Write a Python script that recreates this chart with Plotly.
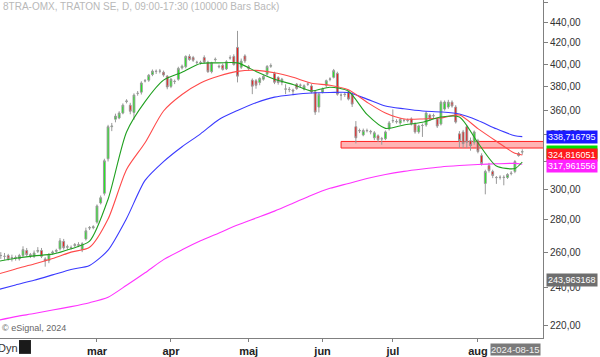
import numpy as np
import plotly.graph_objects as go

# ---------------- data ----------------
opens = [258.5,258.0,257.5,258.0,256.5,256.8,256.0,258.0,261.0,258.5,257.5,260.5,261.0,256.0,255.0,259.5,260.5,262.0,266.5,263.0,
         262.6,264.0,264.5,261.5,268.0,274.8,275.0,278.5,291.0,297.5,322.0,346.5,352.5,353.5,357.5,367.0,364.0,358.0,374.0,375.0,
         384.8,385.5,390.5,393.4,393.5,392.5,389.0,380.0,384.5,386.3,396.5,397.5,407.0,406.0,401.5,401.5,406.0,401.5,393.0,404.0,
         398.0,398.8,395.5,405.5,407.0,415.5,397.0,407.5,397.5,385.5,385.0,383.4,386.3,390.7,398.0,391.5,387.8,383.4,377.6,377.5,
         376.8,381.9,381.0,377.6,382.0,380.4,375.3,362.4,375.0,381.0,386.3,388.0,391.5,372.5,373.3,375.0,373.3,346.5,343.5,340.0,
         343.3,342.8,337.8,339.4,337.1,337.1,344.8,351.4,350.7,349.4,351.5,351.6,352.7,348.7,342.4,347.5,347.9,355.9,355.4,352.7,
         348.7,360.8,362.5,366.5,362.4,340.9,342.4,346.5,335.6,334.4,335.6,324.3,304.3,317.0,312.7,308.5,308.5,308.6,308.5,311.3,
         312.7,325.8,327.0]
highs = [260.5,260.0,259.5,259.0,258.5,258.0,259.0,263.5,262.5,259.5,261.0,263.0,262.5,257.0,259.5,261.0,262.0,268.5,268.0,264.5,
         264.0,265.5,266.0,266.0,275.0,276.0,276.5,290.0,296.0,322.0,348.0,349.5,357.0,359.0,365.5,369.0,366.0,374.0,376.0,384.5,
         386.5,391.0,395.0,395.0,395.5,394.0,390.0,387.5,386.0,397.5,399.5,408.0,409.0,407.5,403.0,403.0,408.0,403.0,402.0,406.0,
         399.5,400.5,403.5,408.0,409.0,431.5,405.0,409.0,399.0,387.0,386.5,388.0,390.0,399.0,400.5,393.0,389.0,387.5,381.9,379.5,
         378.0,383.0,382.5,381.8,383.5,382.0,376.5,374.5,379.0,386.0,388.0,395.5,393.0,374.0,375.0,376.5,375.0,351.0,345.0,345.0,
         345.0,344.0,343.0,340.5,338.5,343.5,351.0,360.5,352.5,353.5,353.0,353.0,354.0,350.0,348.0,349.0,359.0,357.0,357.0,354.0,
         368.0,368.0,368.5,368.0,364.0,343.0,344.0,348.0,338.0,343.5,337.0,326.0,314.0,319.0,314.0,309.5,310.0,310.0,311.5,313.0,
         321.0,327.0,329.0]
lows = [256.5,256.0,255.5,255.0,254.5,255.0,255.0,257.0,257.5,256.5,256.5,259.5,256.5,251.5,253.5,258.5,259.5,261.0,261.5,261.5,
        261.5,263.0,263.0,260.0,267.0,273.5,274.0,277.5,290.0,296.0,320.0,343.0,350.0,352.5,356.5,365.5,356.5,352.0,372.0,373.0,
        383.5,384.0,389.0,391.0,391.5,388.5,377.5,378.5,382.0,385.0,395.0,396.0,403.0,402.0,399.5,399.5,400.5,392.0,391.5,402.0,
        396.0,394.0,394.5,404.0,398.5,383.5,395.5,401.0,394.0,373.3,378.0,381.0,385.0,389.5,396.5,382.0,381.5,381.0,373.3,375.0,
        372.5,377.0,379.0,376.5,380.5,374.0,356.0,358.0,374.0,379.0,384.5,387.0,372.0,368.0,371.0,368.0,362.5,333.5,341.5,339.0,
        342.0,340.5,336.0,334.5,332.5,336.0,343.5,349.5,349.0,348.0,350.0,350.0,347.5,341.0,341.0,338.5,346.5,351.0,353.5,345.5,
        347.5,359.5,361.0,362.0,349.0,330.3,330.0,330.0,328.0,332.5,326.0,317.0,296.8,312.0,308.0,304.0,307.0,303.0,307.5,310.0,
        311.5,323.5,325.0]
closes = [258.0,258.0,257.5,256.0,256.8,256.5,258.0,261.5,258.5,258.0,259.5,261.0,257.5,254.8,258.5,260.0,261.0,266.8,262.6,263.2,
          262.8,264.5,264.2,265.0,273.0,275.0,275.5,289.0,294.5,320.5,346.5,347.0,355.0,357.5,364.0,367.5,359.0,372.5,374.0,383.0,
          385.0,389.8,393.5,393.3,393.5,390.0,379.5,386.3,384.3,396.0,398.0,407.0,404.2,403.5,401.5,401.3,402.0,393.0,401.0,404.3,
          397.5,395.1,402.0,405.8,399.5,389.0,402.6,402.8,396.0,380.2,381.0,387.0,388.8,397.8,398.5,383.6,383.4,386.3,377.8,377.3,
          376.0,378.2,381.0,380.6,382.0,375.3,358.3,373.3,377.6,385.0,386.5,394.0,373.3,372.5,373.0,369.1,364.9,337.8,343.3,343.5,
          343.5,342.5,341.7,336.3,337.0,342.4,349.5,351.3,350.5,352.3,351.5,351.4,348.7,342.4,347.1,347.5,357.5,352.7,355.3,347.0,
          366.5,366.6,366.5,363.3,350.2,335.6,333.3,334.4,331.8,342.4,327.3,318.5,312.7,313.5,309.9,308.4,308.6,308.5,310.6,311.5,
          319.9,324.4,327.2]

# moving averages sampled at these bar numbers
ma_bars = [0, 5, 10, 15, 20, 25, 30, 35, 40, 45, 50, 55, 60, 65, 70, 75, 80, 85, 90, 95, 100,
           105, 110, 115, 120, 125, 130, 135, 140, 142]
ma_green = [254.5, 256.4, 257.8, 258.8, 262.0, 266.6, 293.5, 342.4, 367.0, 385.5, 392.5, 400.5, 401.0, 401.0, 393.3,
            386.3, 381.6, 376.0, 379.3, 375.8, 356.4, 345.2, 347.9, 350.0, 354.3, 354.3, 334.0, 316.7, 314.9, 319.6]
ma_red = [247.1, 250.2, 253.0, 256.2, 260.0, 262.9, 280.5, 314.2, 334.0, 359.2, 373.0, 383.0, 389.2, 393.3, 394.2,
          392.0, 388.0, 382.8, 381.0, 377.0, 366.5, 357.5, 352.7, 352.7, 353.5, 355.9, 345.0, 335.2, 326.0, 324.8]
ma_blue = [238.5, 241.2, 243.8, 246.8, 249.9, 252.2, 261.2, 280.8, 306.4, 319.9, 331.0, 340.9, 352.3, 359.6, 366.1,
           370.8, 372.9, 374.3, 374.7, 374.7, 369.1, 363.3, 361.0, 359.2, 358.4, 356.7, 351.5, 344.8, 339.4, 338.7]
ma_magenta = [222.3, 224.3, 225.9, 227.7, 229.5, 231.6, 234.5, 241.0, 248.0, 255.6, 261.4, 266.8, 271.7, 276.7, 281.1,
              285.6, 290.8, 296.2, 300.9, 304.3, 307.8, 310.6, 312.8, 314.5, 316.0, 317.0, 317.8, 318.3, 318.6, 318.0]

month_bars = [27, 47, 68, 88, 107, 130]
month_labels = ["mar", "apr", "maj", "jun", "jul", "aug"]

price_ticks = [220, 240, 260, 280, 300, 320, 340, 360, 380, 400, 420, 440, 460]

zone_low, zone_high, zone_start = 330.0, 335.0, 93

last_labels = [  # value shown, position value, colour
    ("338,716795", 338.716795, "#1a1aff"),
    ("324,816051", 327.0, "#00dd00"),
    ("324,816051", 324.816051, "#ff1a1a"),
    ("317,961556", 317.0, "#ff22ff"),
    ("243,963168", 243.963168, "#6e6e6e"),
]

FONT = "Liberation Sans, Arial, sans-serif"
bars = list(range(len(closes)))

fig = go.Figure()
for vals, col in [(ma_magenta, "#ff33ff"), (ma_blue, "#3a3aff"), (ma_red, "#ff4a4a"), (ma_green, "#20a020")]:
    fig.add_trace(go.Scatter(x=ma_bars, y=vals, mode="lines",
                             line=dict(color=col, width=1.1, shape="spline", smoothing=0.7),
                             hoverinfo="skip"))

fig.add_trace(go.Candlestick(
    x=bars, open=opens, high=highs, low=lows, close=closes,
    increasing=dict(fillcolor="#00ff00", line=dict(color="#9a9a9a", width=1)),
    decreasing=dict(fillcolor="#ff0000", line=dict(color="#9a9a9a", width=1)),
    whiskerwidth=0,
))

fig.add_shape(type="rect", xref="x", yref="y", x0=zone_start, x1=150, y0=zone_low, y1=zone_high,
              fillcolor="#ffb4b4", line=dict(color="#ff2020", width=1), layer="below")

# right-hand value labels
for txt, v, col in last_labels:
    fig.add_annotation(xref="paper", yref="y", x=1, y=np.log10(v), xanchor="left", xshift=3,
                       text=txt, showarrow=False, bgcolor=col, borderpad=1,
                       font=dict(family=FONT, size=9, color="white"))

# header / footer texts
fig.add_annotation(xref="paper", yref="paper", x=0.0, y=1.0, xanchor="left", yanchor="top", xshift=1, yshift=1,
                   text="8TRA-OMX, TRATON SE, D, 09:00-17:30 (100000 Bars Back)", showarrow=False,
                   font=dict(family=FONT, size=10, color="#b8b8b8"))
fig.add_annotation(xref="paper", yref="paper", x=0.0, y=0.0, xanchor="left", yanchor="bottom", yshift=3,
                   text="© eSignal, 2024", showarrow=False, font=dict(family=FONT, size=9, color="#666666"))
fig.add_annotation(xref="paper", yref="paper", x=0.0, y=0.0, xanchor="left", yanchor="top", xshift=-4, yshift=-2,
                   text="Dyn", showarrow=False, font=dict(family=FONT, size=11, color="#333333"))
fig.add_shape(type="rect", xref="paper", yref="paper", x0=0.035, x1=0.057, y0=-0.047, y1=-0.006,
              fillcolor="#1a1a1a", line=dict(width=0))
fig.add_annotation(xref="paper", yref="paper", x=1.0, y=0.0, xanchor="right", yanchor="top", xshift=-2, yshift=-5,
                   text="2024-08-15", showarrow=False, bgcolor="#7a7a7a", borderpad=0,
                   font=dict(family=FONT, size=9.5, color="#f0f0f0"))

fig.update_layout(
    width=600, height=357,
    margin=dict(l=0, r=57, t=0, b=16),
    paper_bgcolor="white", plot_bgcolor="white",
    showlegend=False,
    xaxis=dict(range=[0.78, 147.6], rangeslider=dict(visible=False), showgrid=False, zeroline=False,
               tickvals=month_bars, ticktext=[f"<b>{m}</b>" for m in month_labels],
               ticks="outside", ticklen=3, tickcolor="#808080",
               showline=True, linecolor="#808080", linewidth=1,
               tickfont=dict(family=FONT, size=11, color="#222222")),
    yaxis=dict(type="log", range=[2.3296, 2.6657], side="right", showgrid=False, zeroline=False,
               tickvals=price_ticks, ticktext=[f"{t:.2f}".replace(".", ",") for t in price_ticks],
               ticks="outside", ticklen=4, tickcolor="#808080",
               showline=True, linecolor="#808080", linewidth=1,
               tickfont=dict(family=FONT, size=10, color="#333333")),
)

fig.write_html("out.html", config={"displayModeBar": False},
               post_script="document.body.style.margin='0';document.body.style.padding='0';")
